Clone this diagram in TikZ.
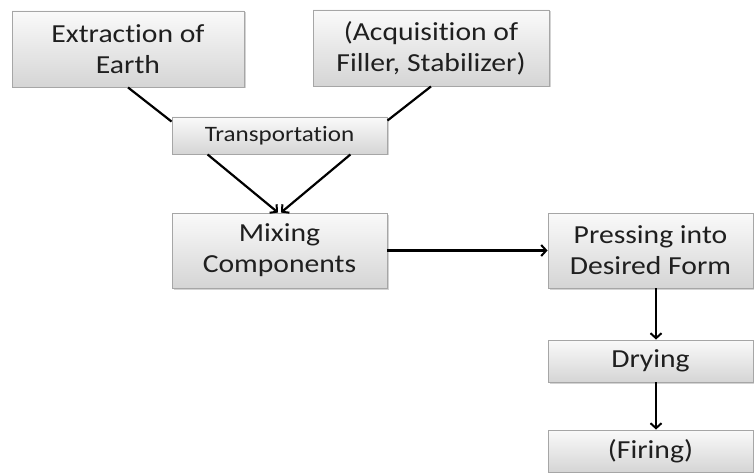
\documentclass[tikz,border=0pt]{standalone}
\usepackage{fontspec}
\setmainfont{Carlito}[FakeStretch=1.14, Ligatures=NoCommon]
\usetikzlibrary{shadows,arrows.meta,calc}
\begin{document}
\begin{tikzpicture}[x=1pt,y=-1pt,
  boxstyle/.style={draw=gray!70, line width=0.9pt, top color=gray!4, bottom color=gray!33,
    drop shadow={shadow xshift=1.5pt, shadow yshift=-1.5pt, opacity=0.35},
    align=center, inner sep=0pt, text=black!88,
    font=\fontsize{26}{31}\selectfont},
  conn/.style={line width=2.2pt, black},
  arr/.style={conn, -{Straight Barb[length=5pt,width=11pt,line width=2pt]}}
]
\useasboundingbox (0,0) rectangle (754,473);
\node[boxstyle, minimum width=232pt, minimum height=76pt] (ext) at (128,49) {Extraction of\\Earth};
\node[boxstyle, minimum width=236pt, minimum height=76pt] (acq) at (431,48) {(Acquisition of\\Filler, Stabilizer)};
\node[boxstyle, minimum width=215pt, minimum height=37pt, font=\fontsize{22}{26}\selectfont] (tra) at (279.5,135.5) {Transportation};
\node[boxstyle, minimum width=215pt, minimum height=75pt] (mix) at (279.5,250.5) {Mixing\\Components};
\node[boxstyle, minimum width=205pt, minimum height=75pt] (pre) at (650.5,250.5) {Pressing into\\Desired Form};
\node[boxstyle, minimum width=205pt, minimum height=42pt] (dry) at (650.5,361) {Drying};
\node[boxstyle, minimum width=205pt, minimum height=42pt] (fir) at (650.5,451) {(Firing)};
\draw[conn] (ext.south) -- ($(tra.north west)+(0,5)$);
\draw[conn] (acq.south) -- ($(tra.north east)+(0,4)$);
\draw[arr] ($(tra.south west)+(36,0)$) -- ($(mix.north)+(-1.5,0)$);
\draw[arr] ($(tra.south east)+(-37,0)$) -- ($(mix.north)+(1.5,0)$);
\draw[arr] (mix.east) -- (pre.west);
\draw[arr] ($(pre.south)+(5.5,0)$) -- ($(dry.north)+(5.5,0)$);
\draw[arr] ($(dry.south)+(5.5,0)$) -- ($(fir.north)+(5.5,0)$);
\end{tikzpicture}
\end{document}
